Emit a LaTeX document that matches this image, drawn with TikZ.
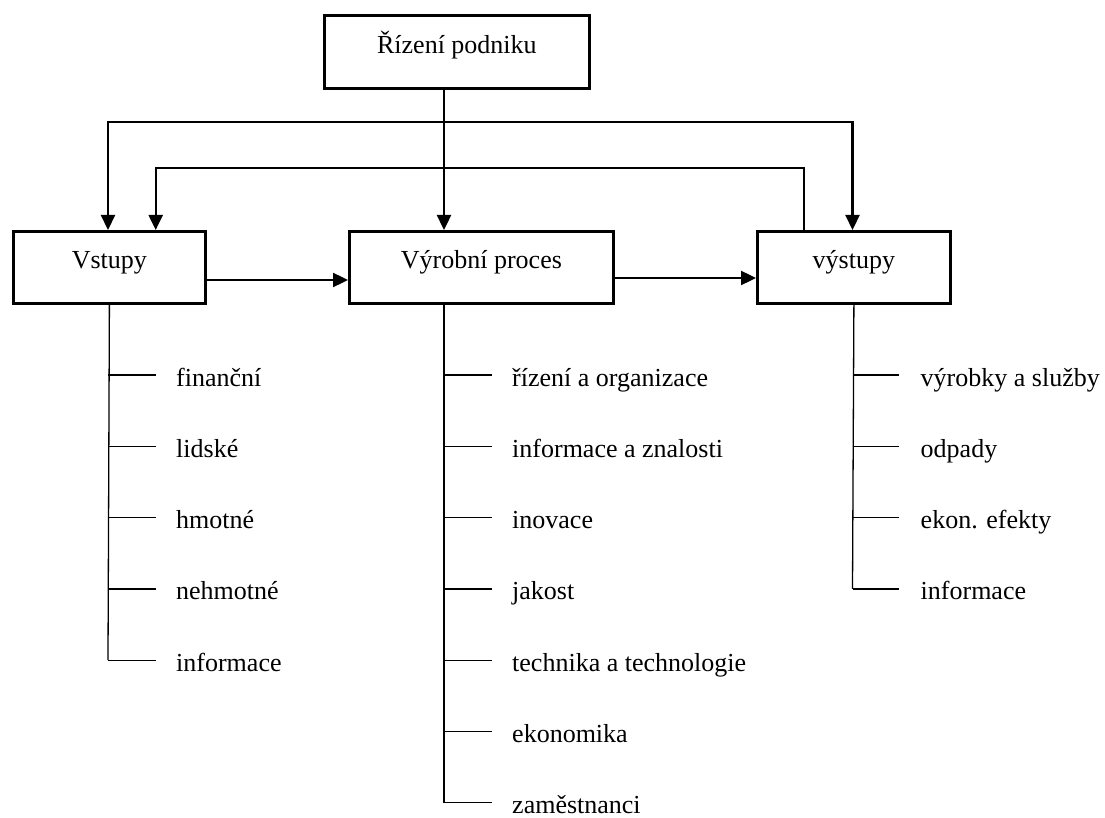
\documentclass[tikz,border=0pt]{standalone}
\usepackage{fontspec}
\setmainfont{Liberation Serif}
\usetikzlibrary{arrows.meta}
\begin{document}
\begin{tikzpicture}[x=1pt,y=-1pt,
  box/.style={draw, line width=2.8pt, inner sep=0pt, anchor=north west,
    text height=37pt, text depth=35pt, font=\fontsize{26}{30}\selectfont},
  item/.style={inner sep=0pt, anchor=west, text height=22pt, text depth=0pt,
    font=\fontsize{26}{30}\selectfont},
  tip/.style={-{Triangle[length=15pt,width=14pt]}},
  main/.style={line width=2.4pt, tip},
  feedh/.style={line width=1.4pt, line cap=rect},
  feedv/.style={line width=2.2pt, line cap=rect},
  branch/.style={line width=1.3pt}]
\useasboundingbox (0,0) rectangle (1105,818);

% boxes
\node[box, minimum width=265pt, text height=38pt] (rp) at (323,14) {Řízení podniku};
\node[box, minimum width=192pt] (vst) at (12,230) {Vstupy};
\node[box, minimum width=264pt] (vp) at (348,230) {Výrobní proces};
\node[box, minimum width=193pt] (vys) at (756,230) {výstupy};

% routing points of the control and feedback lines
\coordinate (jc) at (444,122);
\coordinate (jl) at (108,122);
\coordinate (jr) at (852.5,122);
\coordinate (fl) at (155.7,168);
\coordinate (fr) at (804,168);

% control from management
\draw[main] (rp.south -| jc) -- (vp.north -| jc);
\draw[feedh] (jl) -- (jr);
\draw[feedv, tip] (jl) -- (vst.north -| jl);
\draw[feedv, tip] (jr) -- (vys.north -| jr);

% feedback from outputs to inputs
\draw[feedv] (vys.north -| fr) -- (fr);
\draw[feedh] (fr) -- (fl);
\draw[feedv, tip] (fl) -- (vst.north -| fl);

% main flow
\draw[main] (vst.east |- 0,280) -- (vp.west |- 0,280);
\draw[main] (vp.east |- 0,278) -- (vys.west |- 0,278);

% inputs
\foreach \t [count=\i] in {finanční, lidské, hmotné, nehmotné, informace} {
  \coordinate (vt\i) at (108, 375+71.3*\i-71.3);
  \node[item] (vi\i) at (176, 375+71.3*\i-71.3) {\t};
  \draw[branch] (vt\i) -- ([xshift=-20pt]vi\i.west);
}
\draw[branch] (vst.south) -- (vt5);

% production process
\foreach \t [count=\i] in {řízení a organizace, informace a znalosti, inovace, jakost,
    technika a technologie, ekonomika, zaměstnanci} {
  \coordinate (pt\i) at (444, 375+71.3*\i-71.3);
  \node[item] (pi\i) at (512, 375+71.3*\i-71.3) {\t};
  \draw[branch] (pt\i) -- ([xshift=-20pt]pi\i.west);
}
\draw[branch] (vp.south -| jc) -- (pt7);

% outputs
\foreach \t [count=\i] in {výrobky a služby, odpady, ekon. efekty, informace} {
  \coordinate (ot\i) at (852.5, 375+71.3*\i-71.3);
  \node[item] (oi\i) at (920.5, 375+71.3*\i-71.3) {\t};
  \draw[branch] (ot\i) -- ([xshift=-21.5pt]oi\i.west);
}
\draw[branch] (vys.south) -- (ot4);
\end{tikzpicture}
\end{document}
